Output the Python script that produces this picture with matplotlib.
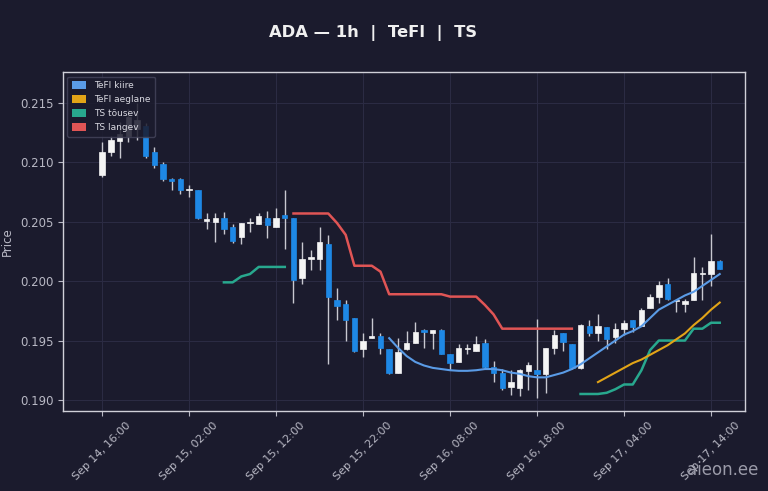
import matplotlib
matplotlib.use("Agg")
import matplotlib.pyplot as plt
from matplotlib.patches import Patch, Rectangle
import numpy as np

# ---- data ----
opens = [0.2089, 0.2109, 0.2118, 0.2122, 0.2128, 0.2131, 0.2109, 0.2099, 0.2086, 0.2086,
         0.2077, 0.2077, 0.2051, 0.2050, 0.2053, 0.2046, 0.2037, 0.2049, 0.2048, 0.2053,
         0.2046, 0.2056, 0.2053, 0.2003, 0.2019, 0.2019, 0.2031, 0.1984, 0.1981, 0.1969,
         0.1943, 0.1952, 0.1954, 0.1943, 0.1923, 0.1943, 0.1948, 0.1959, 0.1956, 0.1959,
         0.1939, 0.1932, 0.1943, 0.1941, 0.1948, 0.1928, 0.1923, 0.1911, 0.1910, 0.1924,
         0.1925, 0.1922, 0.1944, 0.1956, 0.1947, 0.1927, 0.1962, 0.1956, 0.1961, 0.1953,
         0.1960, 0.1967, 0.1962, 0.1977, 0.1987, 0.1998, 0.1983, 0.1981, 0.1984, 0.2006,
         0.2006, 0.2017]
highs = [0.2117, 0.2122, 0.2134, 0.2145, 0.2150, 0.2133, 0.2113, 0.2100, 0.2087, 0.2087,
         0.2081, 0.2077, 0.2057, 0.2057, 0.2058, 0.2048, 0.2049, 0.2053, 0.2057, 0.2059,
         0.2062, 0.2077, 0.2053, 0.2033, 0.2026, 0.2046, 0.2039, 0.1994, 0.1984, 0.1969,
         0.1956, 0.1969, 0.1956, 0.1943, 0.1952, 0.1958, 0.1966, 0.1960, 0.1959, 0.1960,
         0.1939, 0.1947, 0.1947, 0.1954, 0.1951, 0.1933, 0.1926, 0.1925, 0.1926, 0.1932,
         0.1968, 0.1944, 0.1959, 0.1956, 0.1947, 0.1964, 0.1967, 0.1972, 0.1961, 0.1965,
         0.1967, 0.1967, 0.1977, 0.1989, 0.2000, 0.2003, 0.1984, 0.1985, 0.2020, 0.2012,
         0.2040, 0.2018]
lows = [0.2088, 0.2105, 0.2104, 0.2117, 0.2119, 0.2104, 0.2095, 0.2084, 0.2077, 0.2073,
        0.2071, 0.2052, 0.2044, 0.2033, 0.2040, 0.2032, 0.2031, 0.2041, 0.2048, 0.2036,
        0.2046, 0.2027, 0.1982, 0.1998, 0.2009, 0.2009, 0.1930, 0.1967, 0.1950, 0.1940,
        0.1936, 0.1952, 0.1939, 0.1922, 0.1923, 0.1942, 0.1948, 0.1944, 0.1943, 0.1939,
        0.1925, 0.1932, 0.1939, 0.1941, 0.1927, 0.1915, 0.1908, 0.1904, 0.1903, 0.1908,
        0.1902, 0.1906, 0.1939, 0.1941, 0.1926, 0.1926, 0.1954, 0.1950, 0.1943, 0.1948,
        0.1955, 0.1957, 0.1962, 0.1977, 0.1982, 0.1984, 0.1974, 0.1974, 0.1984, 0.1984,
        0.1996, 0.2010]
closes = [0.2109, 0.2119, 0.2124, 0.2138, 0.2136, 0.2105, 0.2098, 0.2086, 0.2084, 0.2077,
          0.2078, 0.2053, 0.2052, 0.2053, 0.2044, 0.2034, 0.2049, 0.2050, 0.2055, 0.2047,
          0.2053, 0.2053, 0.2001, 0.2019, 0.2020, 0.2033, 0.1987, 0.1979, 0.1967, 0.1941,
          0.1950, 0.1954, 0.1944, 0.1923, 0.1940, 0.1948, 0.1957, 0.1957, 0.1959, 0.1939,
          0.1931, 0.1944, 0.1944, 0.1947, 0.1928, 0.1923, 0.1910, 0.1915, 0.1925, 0.1929,
          0.1922, 0.1944, 0.1955, 0.1949, 0.1927, 0.1963, 0.1956, 0.1962, 0.1951, 0.1960,
          0.1965, 0.1961, 0.1976, 0.1987, 0.1997, 0.1985, 0.1984, 0.1983, 0.2007, 0.2006,
          0.2017, 0.2010]

tefl_fast_start = 33
tefl_fast = [0.1952, 0.1944, 0.1937, 0.1932, 0.1929, 0.1927, 0.1926, 0.1925, 0.19245, 0.19245,
             0.1925, 0.1926, 0.1926, 0.1925, 0.1923, 0.1922, 0.1920, 0.1919, 0.1919, 0.1921,
             0.1923, 0.1926, 0.1930, 0.1935, 0.1940, 0.1945, 0.1950, 0.1955, 0.1958, 0.1962,
             0.1969, 0.1976, 0.1980, 0.1984, 0.1988, 0.1991, 0.1996, 0.2001, 0.2006]

tefl_slow_start = 57
tefl_slow = [0.1915, 0.1919, 0.1923, 0.1927, 0.1931, 0.1934, 0.1938, 0.1942, 0.1946, 0.1951,
             0.1956, 0.1963, 0.1969, 0.1976, 0.1982]

ts_up1_start = 14
ts_up1 = [0.1999, 0.1999, 0.2004, 0.2006, 0.2012, 0.2012, 0.2012, 0.2012]
ts_up2_start = 55
ts_up2 = [0.1905, 0.1905, 0.1905, 0.1906, 0.1909, 0.1913, 0.1913, 0.1925, 0.1942, 0.1950,
          0.1950, 0.1950, 0.1950, 0.1960, 0.1960, 0.1965, 0.1965]

ts_down_start = 22
ts_down = [0.2057, 0.2057, 0.2057, 0.2057, 0.2057, 0.2049, 0.2039, 0.2013, 0.2013, 0.2013,
           0.2008, 0.1989, 0.1989, 0.1989, 0.1989, 0.1989, 0.1989, 0.1989, 0.1987, 0.1987,
           0.1987, 0.1987, 0.1980, 0.1972, 0.1960, 0.1960, 0.1960, 0.1960, 0.1960, 0.1960,
           0.1960, 0.1960, 0.1960]

tick_pos = [0, 10, 20, 30, 40, 50, 60, 70]
tick_labels = ["Sep 14, 16:00", "Sep 15, 02:00", "Sep 15, 12:00", "Sep 15, 22:00",
               "Sep 16, 08:00", "Sep 16, 18:00", "Sep 17, 04:00", "Sep 17, 14:00"]
y_ticks = [0.190, 0.195, 0.200, 0.205, 0.210, 0.215]

# ---- style ----
BG = "#1b1b2d"
C_UP = "#f4f4f4"
C_DN = "#1e88e5"
C_WICK = "#c8c8d0"
C_FAST = "#5a9be6"
C_SLOW = "#e2a417"
C_TSUP = "#28a88e"
C_TSDN = "#e05555"
TXT = "#b8b8c4"

fig = plt.figure(figsize=(7.68, 4.91), dpi=100, facecolor=BG)
ax = fig.add_axes([0.082, 0.163, 0.888, 0.690], facecolor=BG)

n = len(opens)
xs = np.arange(n)
w = 0.62
for i in range(n):
    o, h, l, c = opens[i], highs[i], lows[i], closes[i]
    col = C_UP if c >= o else C_DN
    ax.vlines(xs[i], l, h, color=C_WICK, linewidth=1.0, zorder=2)
    bottom = min(o, c)
    height = max(abs(c - o), 0.00006)
    ax.add_patch(Rectangle((xs[i] - w / 2, bottom), w, height,
                           facecolor=col, edgecolor=col, linewidth=0.5, zorder=3))

def seg(start, vals):
    return np.arange(start, start + len(vals)), vals

x, v = seg(ts_up1_start, ts_up1)
ax.plot(x, v, color=C_TSUP, lw=1.8, zorder=4, solid_joinstyle="round")
x, v = seg(ts_up2_start, ts_up2)
ax.plot(x, v, color=C_TSUP, lw=1.8, zorder=4, solid_joinstyle="round")
x, v = seg(ts_down_start, ts_down)
ax.plot(x, v, color=C_TSDN, lw=1.8, zorder=4, solid_joinstyle="round")
x, v = seg(tefl_fast_start, tefl_fast)
ax.plot(x, v, color=C_FAST, lw=1.5, zorder=4)
x, v = seg(tefl_slow_start, tefl_slow)
ax.plot(x, v, color=C_SLOW, lw=1.5, zorder=4)

ax.set_xlim(-4.5, 73.9)
ax.set_ylim(0.18907, 0.2176)
ax.set_yticks(y_ticks)
ax.set_yticklabels([f"{t:.3f}" for t in y_ticks], fontsize=8.5)
ax.set_xticks(tick_pos)
ax.set_xticklabels(tick_labels, rotation=45, ha="center", fontsize=8)
ax.tick_params(colors=TXT, length=3.5)
ax.grid(True, color="#2c2c44", linewidth=0.7)
ax.set_axisbelow(True)
for s in ax.spines.values():
    s.set_color("#d0d0d8")
    s.set_linewidth(1.0)
ax.set_ylabel("Price", color=TXT, fontsize=8.5)

handles = [Patch(facecolor=C_FAST, label="TeFl kiire"),
           Patch(facecolor=C_SLOW, label="TeFl aeglane"),
           Patch(facecolor=C_TSUP, label="TS tõusev"),
           Patch(facecolor=C_TSDN, label="TS langev")]
leg = ax.legend(handles=handles, loc="upper left", fontsize=6.5, facecolor=BG,
                edgecolor="#44445a", labelcolor="#d8d8e0", framealpha=0.85,
                handlelength=1.6, handleheight=0.9, borderpad=0.5, labelspacing=0.55)
leg.set_zorder(10)

fig.text(0.486, 0.932, "ADA — 1h  |  TeFl  |  TS", ha="center", va="center",
         color="#f0f0f0", fontsize=11.8, fontweight="bold")
fig.text(0.988, 0.025, "aieon.ee", ha="right", va="bottom", color="#9a9aa8", fontsize=12)

fig.savefig("out.png", dpi=100, facecolor=BG)
